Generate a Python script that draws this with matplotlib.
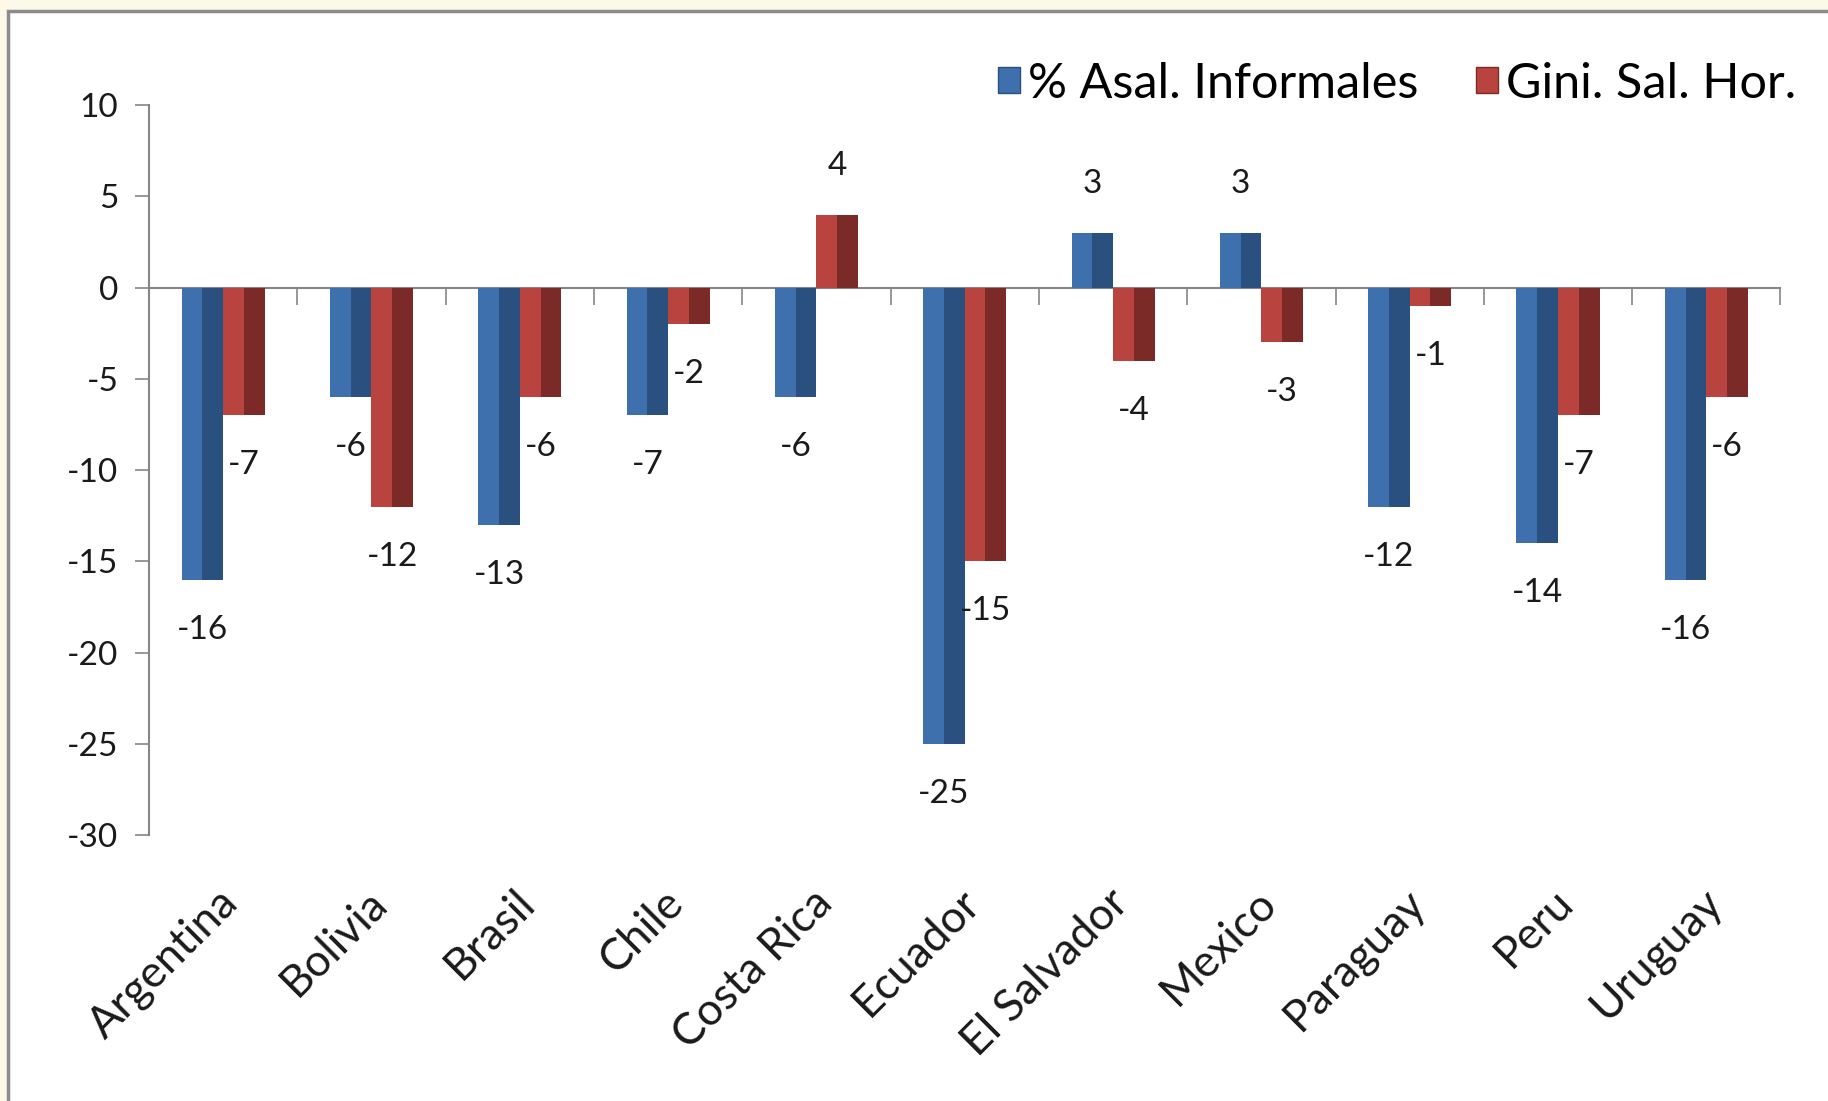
import matplotlib
matplotlib.use("Agg")
import matplotlib.pyplot as plt
import numpy as np
from matplotlib.patches import Rectangle, Patch

# data
countries = ["Argentina", "Bolivia", "Brasil", "Chile", "Costa Rica", "Ecuador",
             "El Salvador", "Mexico", "Paraguay", "Peru", "Uruguay"]
informales = [-16, -6, -13, -7, -6, -25, 3, 3, -12, -14, -16]
gini = [-7, -12, -6, -2, 4, -15, -4, -3, -1, -7, -6]
y_ticks = [10, 5, 0, -5, -10, -15, -20, -25, -30]
series_names = ["% Asal. Informales", "Gini. Sal. Hor."]

plt.rcParams["font.family"] = ["Lato", "DejaVu Sans"]
plt.rcParams["axes.unicode_minus"] = False

fig = plt.figure(figsize=(18.28, 11.01), dpi=100)
fig.patch.set_facecolor("#fdf9e8")
# white chart panel with grey frame
fig.patches.append(Rectangle((8 / 1828, -0.02), 1.1, 1 - 11 / 1101 + 0.02,
                             transform=fig.transFigure, facecolor="white",
                             edgecolor="#8c8c8c", linewidth=2.5, zorder=-5))

ax = fig.add_axes([0.0815, 0.2416, 0.974 - 0.0815, 0.9046 - 0.2416])
ax.set_facecolor("none")

x = np.arange(len(countries))
w = 0.28
colors = {"blue": ("#3e70ae", "#29507f"), "red": ("#b8433f", "#7b2a27")}

for vals, off, key in [(informales, -w / 2, "blue"), (gini, w / 2, "red")]:
    base, dark = colors[key]
    ax.bar(x + off, vals, width=w, color=base, zorder=3)
    # darker right face to fake the bevel of the original
    ax.bar(x + off + w * 0.25, vals, width=w * 0.5, color=dark, zorder=3)
    for xi, v in zip(x + off, vals):
        ax.annotate(f"{v}", (xi, v), xytext=(0, 35 if v > 0 else -36),
                    textcoords="offset points", ha="center", va="center",
                    fontsize=24, color="#1a1a1a", zorder=4)

ax.set_xlim(-0.5, len(countries) - 0.5)
ax.set_ylim(-30, 10)
ax.set_yticks(y_ticks)
ax.tick_params(axis="y", labelsize=24, length=10, width=1.2, color="#868686",
               labelcolor="#1a1a1a", pad=12)

# zero line with ticks between categories
ax.spines["bottom"].set_position(("data", 0))
ax.spines["bottom"].set_color("#868686")
ax.spines["bottom"].set_linewidth(1.5)
ax.spines["left"].set_color("#868686")
ax.spines["left"].set_linewidth(1.5)
ax.spines["top"].set_visible(False)
ax.spines["right"].set_visible(False)
ax.set_xticks(np.arange(len(countries) + 1) - 0.5)
ax.set_xticklabels([])
ax.tick_params(axis="x", length=12, width=1.2, color="#868686", direction="out")

# category names at the bottom of the plot area
sec = ax.secondary_xaxis("bottom")
sec.set_xticks(x + 0.06)
sec.set_xticklabels(countries, rotation=45, ha="right", va="center",
                    rotation_mode="anchor", fontsize=32, color="#1a1a1a")
sec.tick_params(length=0, pad=44)
sec.spines["bottom"].set_visible(False)

handles = [Patch(facecolor=colors["blue"][0], edgecolor=colors["blue"][1]),
           Patch(facecolor=colors["red"][0], edgecolor=colors["red"][1])]
fig.legend(handles, series_names, loc="center right", bbox_to_anchor=(0.993, 0.924),
           ncol=2, frameon=False, fontsize=35, handlelength=0.45, handleheight=0.45,
           handletextpad=0.15, columnspacing=1.2, borderaxespad=0)

fig.savefig("out.png", dpi=100, facecolor=fig.get_facecolor())
